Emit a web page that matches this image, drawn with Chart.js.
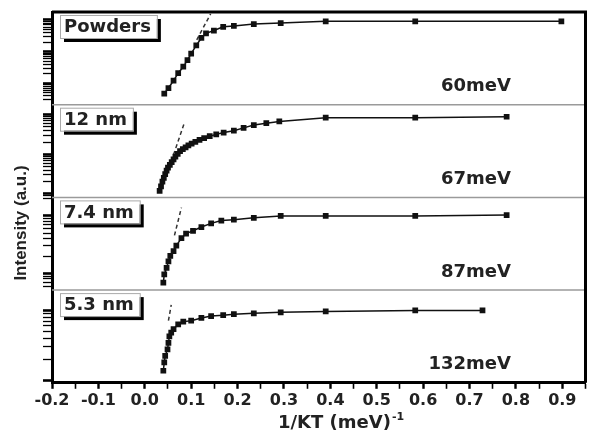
<!DOCTYPE html>
<html>
<head>
<meta charset="utf-8">
<title>Intensity vs 1/KT</title>
<script src="https://cdn.jsdelivr.net/npm/chart.js@4/dist/chart.umd.min.js"></script>
<style>
  html, body { margin: 0; padding: 0; background: #fff; }
  #wrap { width: 590px; height: 430px; }
</style>
</head>
<body>
<div id="wrap"><canvas id="plot" width="590" height="430"></canvas></div>
<script>
// panel captions and activation energies, top to bottom
const panelNames = ["Powders", "12 nm", "7.4 nm", "5.3 nm"];
const activationEnergies = ["60meV", "67meV", "87meV", "132meV"];

// 1/KT (meV^-1) and intensity (a.u., 0..1 within each panel)
const powdersX = [0.042, 0.051, 0.062, 0.072, 0.083, 0.092, 0.100, 0.111, 0.122, 0.132, 0.149, 0.169, 0.192, 0.235, 0.293, 0.390, 0.583, 0.898];
const powdersY = [0.12, 0.18, 0.26, 0.34, 0.41, 0.48, 0.55, 0.64, 0.72, 0.77, 0.80, 0.84, 0.85, 0.87, 0.88, 0.90, 0.90, 0.90];

const nm12X = [0.032, 0.035, 0.038, 0.041, 0.044, 0.047, 0.050, 0.054, 0.058, 0.062, 0.066, 0.071, 0.076, 0.082, 0.088, 0.094, 0.101, 0.109, 0.118, 0.128, 0.140, 0.154, 0.170, 0.192, 0.213, 0.235, 0.262, 0.290, 0.390, 0.583, 0.780];
const nm12Y = [0.07, 0.12, 0.17, 0.21, 0.25, 0.29, 0.32, 0.35, 0.38, 0.41, 0.44, 0.47, 0.50, 0.52, 0.54, 0.56, 0.58, 0.60, 0.62, 0.64, 0.66, 0.68, 0.70, 0.72, 0.75, 0.78, 0.80, 0.82, 0.86, 0.86, 0.87];

const nm74X = [0.040, 0.042, 0.047, 0.051, 0.055, 0.062, 0.068, 0.079, 0.089, 0.104, 0.122, 0.143, 0.165, 0.192, 0.235, 0.293, 0.390, 0.583, 0.780];
const nm74Y = [0.08, 0.17, 0.24, 0.31, 0.37, 0.42, 0.48, 0.56, 0.61, 0.64, 0.68, 0.72, 0.75, 0.76, 0.78, 0.80, 0.80, 0.80, 0.81];

const nm53X = [0.040, 0.042, 0.044, 0.049, 0.051, 0.053, 0.057, 0.062, 0.072, 0.083, 0.100, 0.122, 0.143, 0.169, 0.192, 0.235, 0.293, 0.390, 0.583, 0.728];
const nm53Y = [0.13, 0.22, 0.29, 0.36, 0.43, 0.50, 0.54, 0.58, 0.63, 0.66, 0.67, 0.70, 0.72, 0.73, 0.74, 0.75, 0.76, 0.77, 0.78, 0.78];

// dashed linear fits of the steep part
const powdersFitX = [0.112, 0.142];
const powdersFitY = [0.70, 0.98];
const nm12FitX = [0.062, 0.085];
const nm12FitY = [0.46, 0.80];
const nm74FitX = [0.064, 0.079];
const nm74FitY = [0.59, 0.89];
const nm53FitX = [0.051, 0.057];
const nm53FitY = [0.67, 0.84];

const panelAxisIds = ["yPow", "y12", "y74", "y53"];

function points(xs, ys) {
    return xs.map((x, i) => ({ x: x, y: ys[i] }));
}

function curve(xs, ys, axisId) {
    return {
        data: points(xs, ys),
        yAxisID: axisId,
        borderColor: "#111",
        backgroundColor: "#111",
        borderWidth: 1.5,
        pointStyle: "rect",
        pointRadius: 3,
        pointHoverRadius: 3,
        tension: 0,
    };
}

function fitLine(xs, ys, axisId) {
    return {
        data: points(xs, ys),
        yAxisID: axisId,
        borderColor: "#333",
        borderWidth: 1.5,
        borderDash: [4, 3],
        pointRadius: 0,
    };
}

// log-looking tick marks (no labels) for every panel axis
function panelAxis(weight, majorAt, decade) {
    return {
        type: "linear",
        position: "left",
        stack: "panels",
        stackWeight: 1,
        weight: weight,
        min: 0,
        max: 1,
        ticks: { display: false },
        afterBuildTicks: (scale) => {
            const ticks = [];
            for (let k = -3; k <= 3; k++) {
                for (let j = 1; j <= 9; j++) {
                    const v = majorAt + decade * (k + Math.log10(j));
                    if (v >= 0 && v <= 1) ticks.push({ value: v, major: j === 1 });
                }
            }
            scale.ticks = ticks;
        },
        grid: {
            drawOnChartArea: false,
            tickLength: 9,
            tickColor: "#000",
            tickWidth: (ctx) => (ctx.tick && ctx.tick.major ? 2.6 : 1.3),
        },
        border: { display: true, color: "#000", width: 3 },
    };
}

// frame, separators, captions, axis titles
const decorations = {
    id: "decorations",
    afterDatasetsDraw(chart) {
        const { ctx, chartArea: a, scales } = chart;
        ctx.save();

        ctx.strokeStyle = "#9a9a9a";
        ctx.lineWidth = 1.5;
        panelAxisIds.forEach((id, i) => {
            if (i === 0) return;
            const y = scales[id].top;
            ctx.beginPath();
            ctx.moveTo(a.left, y);
            ctx.lineTo(a.right, y);
            ctx.stroke();
        });

        ctx.strokeStyle = "#000";
        ctx.lineWidth = 3;
        ctx.beginPath();
        ctx.moveTo(a.left, a.top);
        ctx.lineTo(a.right, a.top);
        ctx.lineTo(a.right, a.bottom);
        ctx.stroke();

        ctx.font = 'bold 18px "DejaVu Sans"';
        ctx.textBaseline = "middle";
        panelNames.forEach((name, i) => {
            const s = scales[panelAxisIds[i]];
            const w = ctx.measureText(name).width + 10;
            const h = 23;
            const x = a.left + 8;
            const y = s.top + 3;
            ctx.fillStyle = "#000";
            ctx.fillRect(x + 4, y + 4, w, h);
            ctx.fillStyle = "#fff";
            ctx.fillRect(x, y, w, h);
            ctx.strokeStyle = "#aaa";
            ctx.lineWidth = 1;
            ctx.strokeRect(x + 0.5, y + 0.5, w, h);
            ctx.fillStyle = "#222";
            ctx.textAlign = "left";
            ctx.fillText(name, x + 4, y + h / 2 + 1);

            ctx.textAlign = "right";
            ctx.fillText(activationEnergies[i], 511, s.bottom - 18);
        });

        // y title
        ctx.save();
        ctx.translate(21, 223);
        ctx.rotate(-Math.PI / 2);
        ctx.font = 'bold 17px "Liberation Sans"';
        ctx.textAlign = "center";
        ctx.fillStyle = "#222";
        ctx.fillText("Intensity (a.u.)", 0, 0);
        ctx.restore();

        // x title with superscript
        ctx.textAlign = "left";
        ctx.textBaseline = "alphabetic";
        ctx.fillStyle = "#222";
        ctx.font = 'bold 18px "DejaVu Sans"';
        const main = "1/KT (meV)";
        const x0 = 278;
        ctx.fillText(main, x0, 428);
        const mw = ctx.measureText(main).width;
        ctx.font = 'bold 11px "DejaVu Sans"';
        ctx.fillText("-1", x0 + mw + 1, 420);

        ctx.restore();
    },
};

const scales = {
    x: {
        type: "linear",
        min: -0.2,
        max: 0.95,
        ticks: {
            stepSize: 0.05,
            includeBounds: false,
            autoSkip: false,
            maxRotation: 0,
            padding: 2,
            color: "#222",
            font: { family: "DejaVu Sans", weight: "bold", size: 16 },
            callback: (v) => {
                const t = Math.round(v * 100);
                return t % 10 === 0 ? (t / 100).toFixed(1) : "";
            },
        },
        grid: {
            drawOnChartArea: false,
            tickLength: 6,
            tickColor: "#000",
            tickWidth: (ctx) => (ctx.tick && Math.round(ctx.tick.value * 100) % 10 === 0 ? 2.4 : 1.6),
        },
        border: { color: "#000", width: 3 },
    },
    yPow: panelAxis(4, 0.914, 0.342),
    y12: panelAxis(3, 0.895, 0.429),
    y74: panelAxis(2, 0.80, 0.62),
    y53: panelAxis(1, 0.78, 0.75),
};

new Chart(document.getElementById("plot").getContext("2d"), {
    type: "line",
    data: {
        datasets: [
            curve(powdersX, powdersY, "yPow"),
            curve(nm12X, nm12Y, "y12"),
            curve(nm74X, nm74Y, "y74"),
            curve(nm53X, nm53Y, "y53"),
            fitLine(powdersFitX, powdersFitY, "yPow"),
            fitLine(nm12FitX, nm12FitY, "y12"),
            fitLine(nm74FitX, nm74FitY, "y74"),
            fitLine(nm53FitX, nm53FitY, "y53"),
        ],
    },
    options: {
        responsive: false,
        animation: false,
        devicePixelRatio: 1,
        layout: { padding: { left: 43, right: 3, top: 12, bottom: 18 } },
        plugins: {
            legend: { display: false },
            tooltip: { enabled: false },
        },
        scales: scales,
    },
    plugins: [decorations],
});
</script>
</body>
</html>
